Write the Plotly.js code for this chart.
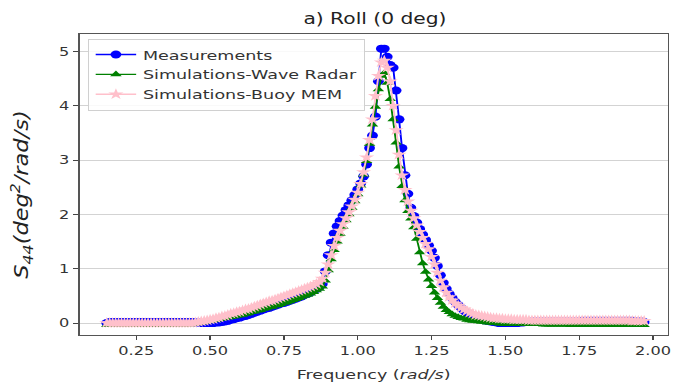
<!DOCTYPE html>
<html>
<head>
<meta charset="utf-8">
<script src="https://cdn.plot.ly/plotly-3.0.1.min.js"></script>
<style>
html,body{margin:0;padding:0;background:#fff;overflow:hidden;}
#wrap{width:688px;height:384px;overflow:hidden;}
#chart{width:510px;height:384px;transform:scaleX(1.349);transform-origin:0 0;}
</style>
</head>
<body>
<div id="wrap"><div id="chart"></div></div>
<script>
var freq = [0.15,0.16,0.17,0.18,0.19,
0.20,0.21,0.22,0.23,0.24,0.25,0.26,0.27,0.28,0.29,
0.30,0.31,0.32,0.33,0.34,0.35,0.36,0.37,0.38,0.39,
0.40,0.41,0.42,0.43,0.44,0.45,0.46,0.47,0.48,0.49,
0.50,0.51,0.52,0.53,0.54,0.55,0.56,0.57,0.58,0.59,
0.60,0.61,0.62,0.63,0.64,0.65,0.66,0.67,0.68,0.69,
0.70,0.71,0.72,0.73,0.74,0.75,0.76,0.77,0.78,0.79,
0.80,0.81,0.82,0.83,0.84,0.85,0.86,0.87,0.88,0.89,
0.90,0.91,0.92,0.93,0.94,0.95,0.96,0.97,0.98,0.99,
1.00,1.01,1.02,1.03,1.04,1.05,1.06,1.07,1.08,1.09,
1.10,1.11,1.12,1.13,1.14,1.15,1.16,1.17,1.18,1.19,
1.20,1.21,1.22,1.23,1.24,1.25,1.26,1.27,1.28,1.29,
1.30,1.31,1.32,1.33,1.34,1.35,1.36,1.37,1.38,1.39,
1.40,1.41,1.42,1.43,1.44,1.45,1.46,1.47,1.48,1.49,
1.50,1.51,1.52,1.53,1.54,1.55,1.56,1.57,1.58,1.59,
1.60,1.61,1.62,1.63,1.64,1.65,1.66,1.67,1.68,1.69,
1.70,1.71,1.72,1.73,1.74,1.75,1.76,1.77,1.78,1.79,
1.80,1.81,1.82,1.83,1.84,1.85,1.86,1.87,1.88,1.89,
1.90,1.91,1.92,1.93,1.94,1.95,1.96,1.97];

var measurements = [0.00,0.02,0.02,0.02,0.02,
0.02,0.02,0.02,0.02,0.02,0.02,0.02,0.02,0.02,0.02,
0.02,0.02,0.02,0.02,0.02,0.02,0.02,0.02,0.02,0.02,
0.02,0.02,0.02,0.02,0.02,0.01,0.01,0.00,0.00,0.00,
0.00,0.00,0.01,0.01,0.02,0.03,0.04,0.06,0.07,0.09,
0.10,0.12,0.13,0.15,0.17,0.19,0.21,0.23,0.25,0.27,
0.28,0.30,0.32,0.34,0.36,0.37,0.39,0.41,0.43,0.45,
0.47,0.49,0.52,0.54,0.57,0.60,0.63,0.67,0.72,0.95,
1.25,1.48,1.65,1.78,1.88,1.98,2.08,2.17,2.26,2.36,
2.46,2.57,2.70,2.92,3.22,3.45,3.80,4.45,5.05,5.05,
4.90,4.75,4.70,4.28,3.75,3.22,2.72,2.38,2.12,1.97,
1.85,1.73,1.63,1.53,1.43,1.33,1.20,1.05,0.88,0.74,
0.63,0.54,0.46,0.39,0.33,0.28,0.23,0.19,0.16,0.13,
0.11,0.09,0.07,0.05,0.04,0.03,0.02,0.01,0.00,0.00,
0.00,0.00,0.00,0.00,0.00,0.01,0.01,0.02,0.02,0.03,
0.03,0.03,0.03,0.03,0.03,0.03,0.03,0.03,0.03,0.03,
0.03,0.03,0.03,0.03,0.03,0.03,0.04,0.04,0.04,0.04,
0.04,0.04,0.04,0.04,0.04,0.04,0.04,0.04,0.04,0.04,
0.04,0.04,0.04,0.04,0.03,0.03,0.03,0.02];

var waveRadar = [-0.04,-0.04,-0.04,-0.04,-0.04,
-0.04,-0.04,-0.04,-0.04,-0.04,-0.04,-0.04,-0.04,-0.04,-0.04,
-0.04,-0.04,-0.04,-0.04,-0.04,-0.04,-0.04,-0.04,-0.04,-0.04,
-0.04,-0.04,-0.03,-0.03,-0.02,-0.01,0.00,0.01,0.02,0.03,
0.04,0.05,0.06,0.07,0.08,0.09,0.10,0.11,0.12,0.13,
0.14,0.15,0.17,0.18,0.20,0.21,0.23,0.24,0.26,0.27,
0.29,0.30,0.32,0.33,0.35,0.37,0.38,0.40,0.42,0.44,
0.46,0.48,0.50,0.52,0.54,0.57,0.60,0.63,0.67,0.78,
0.97,1.17,1.34,1.50,1.64,1.77,1.89,2.00,2.12,2.24,
2.37,2.53,2.73,2.98,3.30,3.65,3.98,4.30,4.55,4.60,
4.42,4.12,3.75,3.32,2.88,2.52,2.26,2.06,1.92,1.76,
1.55,1.30,1.10,0.94,0.80,0.68,0.56,0.46,0.37,0.30,
0.24,0.20,0.16,0.13,0.11,0.09,0.08,0.06,0.05,0.04,
0.04,0.03,0.02,0.02,0.01,0.01,0.00,0.00,-0.01,-0.01,
-0.02,-0.02,-0.02,-0.02,-0.02,-0.02,-0.02,-0.02,-0.02,-0.02,
-0.02,-0.02,-0.02,-0.03,-0.03,-0.03,-0.03,-0.03,-0.03,-0.03,
-0.03,-0.03,-0.04,-0.04,-0.04,-0.04,-0.04,-0.04,-0.04,-0.04,
-0.04,-0.04,-0.04,-0.04,-0.04,-0.04,-0.04,-0.04,-0.04,-0.04,
-0.04,-0.04,-0.04,-0.04,-0.04,-0.04,-0.04,-0.04];

var buoyMEM = [0.00,0.00,0.00,0.00,0.00,
0.00,0.00,0.00,0.00,0.00,0.00,0.00,0.00,0.00,0.00,
0.00,0.00,0.00,0.00,0.00,0.00,0.00,0.00,0.00,0.00,
0.00,0.00,0.00,0.00,0.00,0.01,0.02,0.03,0.04,0.05,
0.06,0.07,0.09,0.10,0.12,0.13,0.15,0.17,0.18,0.20,
0.21,0.23,0.25,0.26,0.28,0.30,0.32,0.34,0.36,0.38,
0.40,0.41,0.43,0.45,0.47,0.49,0.51,0.53,0.55,0.57,
0.59,0.61,0.63,0.65,0.67,0.69,0.72,0.76,0.82,0.93,
1.08,1.25,1.42,1.57,1.70,1.82,1.93,2.04,2.15,2.27,
2.40,2.56,2.78,3.05,3.37,3.75,4.18,4.55,4.80,4.83,
4.70,4.45,4.00,3.55,3.10,2.72,2.45,2.24,2.07,1.93,
1.80,1.68,1.57,1.46,1.36,1.22,1.08,0.93,0.78,0.66,
0.56,0.48,0.42,0.36,0.32,0.28,0.25,0.22,0.19,0.17,
0.15,0.14,0.13,0.12,0.11,0.10,0.09,0.09,0.08,0.08,
0.07,0.07,0.07,0.06,0.06,0.06,0.06,0.06,0.05,0.05,
0.05,0.05,0.05,0.05,0.05,0.05,0.05,0.05,0.05,0.05,
0.05,0.05,0.05,0.05,0.05,0.05,0.05,0.05,0.05,0.05,
0.05,0.05,0.05,0.05,0.05,0.05,0.05,0.05,0.05,0.05,
0.05,0.05,0.05,0.04,0.04,0.04,0.04,0.04];

var seriesNames = ['Measurements','Simulations-Wave Radar','Simulations-Buoy MEM'];
var xTickVals = [0.25,0.50,0.75,1.00,1.25,1.50,1.75,2.00];
var xTickText = ['0.25','0.50','0.75','1.00','1.25','1.50','1.75','2.00'];
var yTickVals = [0,1,2,3,4,5];
var yTickText = ['0','1','2','3','4','5'];

var traces = [
  {x: freq, y: measurements, name: seriesNames[0], type: 'scatter', mode: 'lines+markers',
   line: {color: '#0000ff', width: 1.4}, marker: {symbol: 'circle', size: 8, color: '#0000ff'}},
  {x: freq, y: waveRadar, name: seriesNames[1], type: 'scatter', mode: 'lines+markers',
   line: {color: '#008000', width: 1.4}, marker: {symbol: 'triangle-up', size: 7.5, color: '#008000'}},
  {x: freq, y: buoyMEM, name: seriesNames[2], type: 'scatter', mode: 'lines+markers',
   line: {color: '#ffc0cb', width: 1.4}, marker: {symbol: 'star', size: 8.5, color: '#ffc0cb'}}
];

var layout = {
  width: 510, height: 384,
  margin: {l: 59.3, r: 14.8, t: 34, b: 49},
  paper_bgcolor: '#ffffff', plot_bgcolor: '#ffffff',
  font: {family: 'DejaVu Sans, sans-serif', size: 12, color: '#333'},
  title: {text: 'a) Roll (0 deg)', font: {size: 15, color: '#222'}, x: 0.545, xanchor: 'center', y: 0.951, yanchor: 'middle'},
  showlegend: true,
  legend: {x: 0.0136, y: 0.985, xanchor: 'left', yanchor: 'top', bgcolor: 'rgba(255,255,255,0.85)',
    bordercolor: '#d0d0d0', borderwidth: 1, font: {size: 13, color: '#333'}, tracegroupgap: 0},
  xaxis: {range: [0.058, 2.05], tickvals: xTickVals, ticktext: xTickText, ticks: 'outside', ticklen: 4,
    tickcolor: '#444', showgrid: false, zeroline: false, showline: true, mirror: true, linecolor: '#555', linewidth: 1.2,
    tickfont: {size: 12, color: '#333'},
    title: {text: 'Frequency (<i>rad/s</i>)', font: {size: 13, color: '#333'}, standoff: 13}},
  yaxis: {range: [-0.22, 5.32], tickvals: yTickVals, ticktext: yTickText, ticks: 'outside', ticklen: 4,
    tickcolor: '#444', showgrid: true, gridcolor: '#d3d3d3', gridwidth: 1, zeroline: false, showline: true, mirror: true,
    linecolor: '#555', linewidth: 1.2, tickfont: {size: 12, color: '#333'},
    title: {text: '<i>S<sub>44</sub>(deg<sup>2</sup>/rad/s)</i>', font: {family: 'DejaVu Sans, sans-serif', size: 15, color: '#222'}, standoff: 12}}
};

Plotly.newPlot('chart', traces, layout, {displayModeBar: false, staticPlot: true}).then(function () {
  // lengthen the rotated y title along its baseline so it stays tall after the horizontal page stretch
  var t = document.querySelector('.ytitle');
  if (t) {
    var x = parseFloat(t.getAttribute('x')), y = parseFloat(t.getAttribute('y'));
    t.setAttribute('transform', 'translate(-6,10) rotate(-90,' + x + ',' + y + ') translate(' + x + ',' + y + ') scale(1.5,1) translate(' + (-x) + ',' + (-y) + ')');
  }
});
</script>
</body>
</html>
